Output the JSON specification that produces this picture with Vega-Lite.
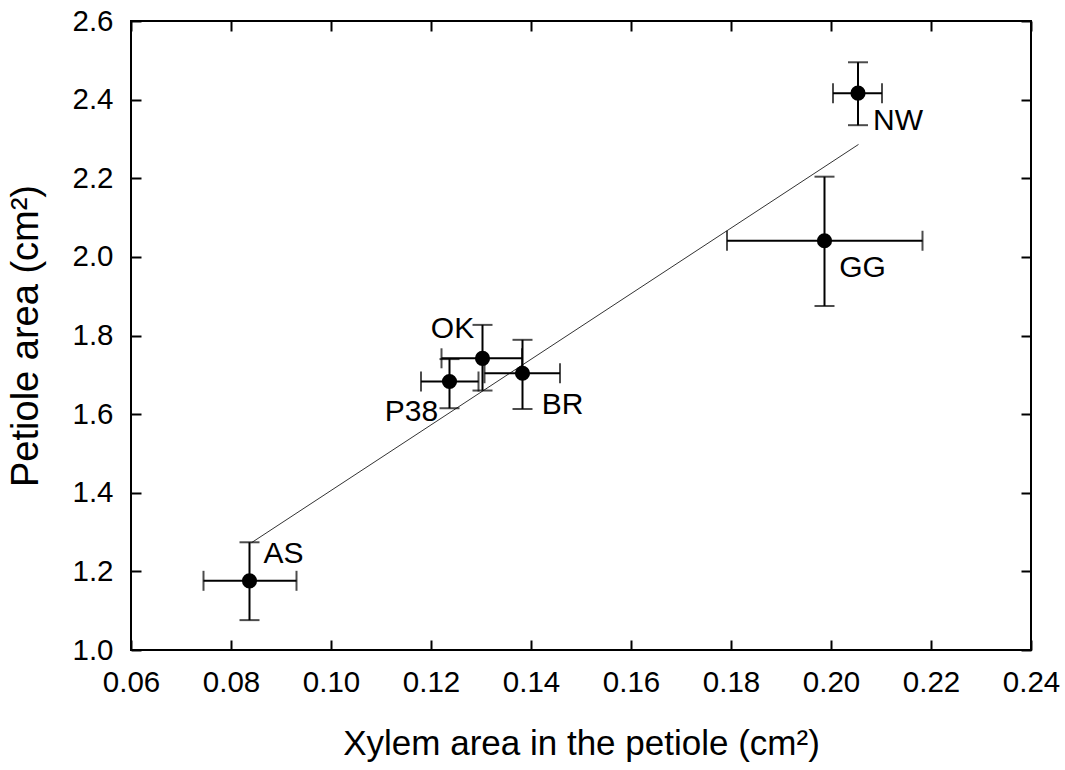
{
  "$schema": "https://vega.github.io/schema/vega-lite/v6.json",
  "width": 900,
  "height": 629,
  "autosize": "none",
  "padding": {"left": 131, "top": 21, "right": 34, "bottom": 120},
  "background": "white",
  "config": {
    "view": {"stroke": "black", "strokeWidth": 2},
    "axis": {
      "grid": false,
      "domain": false,
      "ticks": true,
      "tickColor": "black",
      "tickWidth": 2,
      "tickSize": -10,
      "labelFlush": false,
      "labelFont": "Liberation Sans",
      "labelFontSize": 29.5,
      "labelColor": "black",
      "titleFont": "Liberation Sans",
      "titleFontSize": 35,
      "titleFontWeight": "normal",
      "titleColor": "black"
    },
    "text": {"font": "Liberation Sans", "fontSize": 30, "color": "black"}
  },
  "datasets": {
    "pts": [
      {"name": "AS", "x": 0.0837, "y": 1.176, "xlo": 0.0745, "xhi": 0.0931, "ylo": 1.076, "yhi": 1.274},
      {"name": "P38", "x": 0.1237, "y": 1.683, "xlo": 0.118, "xhi": 0.1295, "ylo": 1.615, "yhi": 1.74},
      {"name": "OK", "x": 0.1303, "y": 1.742, "xlo": 0.1221, "xhi": 0.1382, "ylo": 1.66, "yhi": 1.827},
      {"name": "BR", "x": 0.1383, "y": 1.704, "xlo": 0.1307, "xhi": 0.1458, "ylo": 1.613, "yhi": 1.789},
      {"name": "GG", "x": 0.1987, "y": 2.041, "xlo": 0.1792, "xhi": 0.2183, "ylo": 1.875, "yhi": 2.204},
      {"name": "NW", "x": 0.2054, "y": 2.4165, "xlo": 0.2004, "xhi": 0.2102, "ylo": 2.335, "yhi": 2.495}
    ],
    "fit": [
      {"x": 0.0841, "y": 1.273},
      {"x": 0.2055, "y": 2.286}
    ]
  },
  "resolve": {"axis": {"x": "independent", "y": "independent"}},
  "layer": [
    {
      "data": {"name": "fit"},
      "mark": {"type": "line", "color": "#333333", "strokeWidth": 1},
      "encoding": {
        "x": {"field": "x", "type": "quantitative", "scale": {"domain": [0.06, 0.24], "nice": false, "zero": false},
          "axis": {"orient": "bottom", "values": [0.06, 0.08, 0.1, 0.12, 0.14, 0.16, 0.18, 0.2, 0.22, 0.24], "format": ".2f", "labelPadding": 28, "title": "Xylem area in the petiole (cm²)", "titlePadding": 30}},
        "y": {"field": "y", "type": "quantitative", "scale": {"domain": [1.0, 2.6], "nice": false, "zero": false},
          "axis": {"orient": "left", "values": [1.0, 1.2, 1.4, 1.6, 1.8, 2.0, 2.2, 2.4, 2.6], "format": ".1f", "labelPadding": 28, "title": "Petiole area (cm²)", "titleFontSize": 38, "titlePadding": 26}}
      }
    },
    {
      "data": {"name": "pts"},
      "mark": {"type": "rule", "color": "black", "strokeWidth": 2},
      "encoding": {
        "x": {"field": "xlo", "type": "quantitative", "scale": {"domain": [0.06, 0.24]},
          "axis": {"orient": "top", "values": [0.06, 0.08, 0.1, 0.12, 0.14, 0.16, 0.18, 0.2, 0.22, 0.24], "labels": false, "title": null}},
        "x2": {"field": "xhi"},
        "y": {"field": "y", "type": "quantitative", "scale": {"domain": [1.0, 2.6]},
          "axis": {"orient": "right", "values": [1.0, 1.2, 1.4, 1.6, 1.8, 2.0, 2.2, 2.4, 2.6], "labels": false, "title": null}}
      }
    },
    {
      "data": {"name": "pts"},
      "mark": {"type": "rule", "color": "black", "strokeWidth": 2},
      "encoding": {
        "x": {"field": "x", "type": "quantitative", "axis": null},
        "y": {"field": "ylo", "type": "quantitative", "axis": null},
        "y2": {"field": "yhi"}
      }
    },
    {
      "data": {"name": "pts"},
      "mark": {"type": "tick", "orient": "vertical", "color": "black", "thickness": 2, "size": 20},
      "encoding": {
        "x": {"field": "xlo", "type": "quantitative", "axis": null},
        "y": {"field": "y", "type": "quantitative", "axis": null}
      }
    },
    {
      "data": {"name": "pts"},
      "mark": {"type": "tick", "orient": "vertical", "color": "black", "thickness": 2, "size": 20},
      "encoding": {
        "x": {"field": "xhi", "type": "quantitative", "axis": null},
        "y": {"field": "y", "type": "quantitative", "axis": null}
      }
    },
    {
      "data": {"name": "pts"},
      "mark": {"type": "tick", "orient": "horizontal", "color": "black", "thickness": 2, "size": 20},
      "encoding": {
        "x": {"field": "x", "type": "quantitative", "axis": null},
        "y": {"field": "ylo", "type": "quantitative", "axis": null}
      }
    },
    {
      "data": {"name": "pts"},
      "mark": {"type": "tick", "orient": "horizontal", "color": "black", "thickness": 2, "size": 20},
      "encoding": {
        "x": {"field": "x", "type": "quantitative", "axis": null},
        "y": {"field": "yhi", "type": "quantitative", "axis": null}
      }
    },
    {
      "data": {"name": "pts"},
      "mark": {"type": "point", "shape": "circle", "filled": true, "color": "black", "opacity": 1, "size": 230},
      "encoding": {
        "x": {"field": "x", "type": "quantitative", "axis": null},
        "y": {"field": "y", "type": "quantitative", "axis": null}
      }
    },
    {
      "data": {"name": "pts"},
      "transform": [{"filter": "datum.name === 'AS'"}],
      "mark": {"type": "text", "dx": 34, "dy": -27, "align": "center", "baseline": "middle"},
      "encoding": {"x": {"field": "x", "type": "quantitative", "axis": null}, "y": {"field": "y", "type": "quantitative", "axis": null}, "text": {"field": "name"}}
    },
    {
      "data": {"name": "pts"},
      "transform": [{"filter": "datum.name === 'NW'"}],
      "mark": {"type": "text", "dx": 40, "dy": 28, "align": "center", "baseline": "middle"},
      "encoding": {"x": {"field": "x", "type": "quantitative", "axis": null}, "y": {"field": "y", "type": "quantitative", "axis": null}, "text": {"field": "name"}}
    },
    {
      "data": {"name": "pts"},
      "transform": [{"filter": "datum.name === 'GG'"}],
      "mark": {"type": "text", "dx": 38, "dy": 27, "align": "center", "baseline": "middle"},
      "encoding": {"x": {"field": "x", "type": "quantitative", "axis": null}, "y": {"field": "y", "type": "quantitative", "axis": null}, "text": {"field": "name"}}
    },
    {
      "data": {"name": "pts"},
      "transform": [{"filter": "datum.name === 'OK'"}],
      "mark": {"type": "text", "dx": -30, "dy": -29, "align": "center", "baseline": "middle"},
      "encoding": {"x": {"field": "x", "type": "quantitative", "axis": null}, "y": {"field": "y", "type": "quantitative", "axis": null}, "text": {"field": "name"}}
    },
    {
      "data": {"name": "pts"},
      "transform": [{"filter": "datum.name === 'P38'"}],
      "mark": {"type": "text", "dx": -38, "dy": 31, "align": "center", "baseline": "middle"},
      "encoding": {"x": {"field": "x", "type": "quantitative", "axis": null}, "y": {"field": "y", "type": "quantitative", "axis": null}, "text": {"field": "name"}}
    },
    {
      "data": {"name": "pts"},
      "transform": [{"filter": "datum.name === 'BR'"}],
      "mark": {"type": "text", "dx": 40, "dy": 32, "align": "center", "baseline": "middle"},
      "encoding": {"x": {"field": "x", "type": "quantitative", "axis": null}, "y": {"field": "y", "type": "quantitative", "axis": null}, "text": {"field": "name"}}
    }
  ]
}
